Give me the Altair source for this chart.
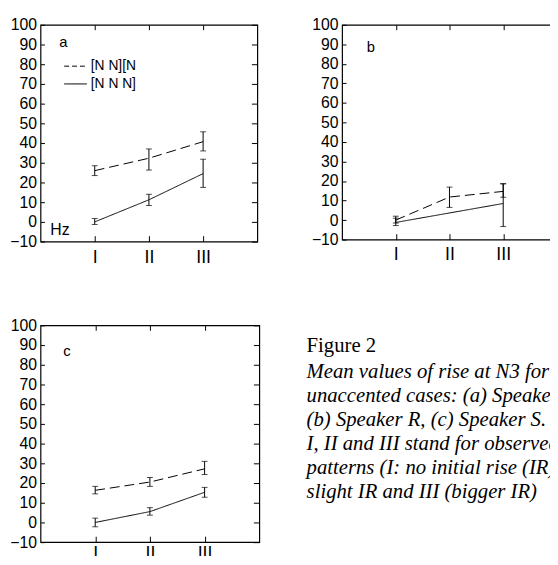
import altair as alt
import pandas as pd

# ---------------- data ----------------
patterns = ["I", "II", "III"]
series = ["[N N][N", "[N N N]"]
y_ticks = list(range(-10, 101, 10))

# panel a
a_dash_mean = [26.0, 32.3, 40.7]
a_dash_lo = [23.5, 26.3, 36.0]
a_dash_hi = [28.5, 37.0, 45.7]
a_solid_mean = [0.0, 11.2, 24.5]
a_solid_lo = [-1.3, 8.3, 17.5]
a_solid_hi = [1.7, 14.0, 31.8]

# panel b
b_dash_mean = [0.0, 11.8, 14.7]
b_dash_lo = [-1.5, 6.5, 11.7]
b_dash_hi = [2.0, 16.9, 18.6]
b_solid_mean = [-1.2, None, 8.5]
b_solid_lo = [-2.8, None, -3.3]
b_solid_hi = [1.0, None, 18.6]

# panel c
c_dash_mean = [16.3, 20.5, 27.2]
c_dash_lo = [14.5, 18.3, 24.3]
c_dash_hi = [18.3, 22.8, 31.0]
c_solid_mean = [0.0, 5.5, 15.3]
c_solid_lo = [-2.2, 3.7, 12.8]
c_solid_hi = [2.2, 7.5, 17.8]

legend_y = [79, 70]

caption_title = "Figure 2"
caption_lines = [
    "Mean values of rise at N3 for",
    "unaccented cases: (a) Speaker",
    "(b) Speaker R, (c) Speaker S.",
    "I, II and III stand for observed",
    "patterns (I: no initial rise (IR),",
    "slight IR and III (bigger IR)",
]

# ---------------- helpers ----------------
FONT = "Liberation Sans"
SERIF = "Liberation Serif"


def frame(dm, dl, dh, sm, sl, sh):
    rows = []
    for s, (m, l, h) in zip(series, [(dm, dl, dh), (sm, sl, sh)]):
        for p, mv, lv, hv in zip(patterns, m, l, h):
            if mv is None:
                continue
            rows.append(dict(pattern=p, series=s, mean=mv, lo=lv, hi=hv))
    return pd.DataFrame(rows)


yscale = alt.Scale(domain=[-10, 100], nice=False, zero=False)
xscale = alt.Scale(type="point", padding=1, domain=patterns)

left_axis = alt.Axis(orient="left", values=y_ticks, offset=-4, tickSize=4, domain=False,
                     grid=False, labelPadding=4, labelFontSize=16, labelFont=FONT,
                     labelColor="black", tickColor="black", title=None)
right_axis = alt.Axis(orient="right", values=y_ticks, offset=-6, tickSize=6, labels=False,
                      domain=False, grid=False, tickColor="black", title=None)
top_axis = alt.Axis(orient="top", offset=-5, tickSize=5, labels=False, domain=False,
                    grid=False, tickColor="black", title=None)


def bottom_axis(pad):
    return alt.Axis(orient="bottom", offset=-6, tickSize=6, labelPadding=pad,
                    labelFontSize=18, labelFont=FONT, labelAngle=0, domain=False,
                    grid=False, tickColor="black", labelColor="black", title=None)


def xenc(axis):
    if axis is None:
        return alt.X("pattern:N", scale=xscale, sort=patterns, axis=None)
    return alt.X("pattern:N", scale=xscale, sort=patterns, axis=axis)


def panel(df, w, h, letter, letter_xy, label_pad, extra=()):
    base = alt.Chart(df)
    lines = base.mark_line(color="black", strokeWidth=1).encode(
        x=xenc(bottom_axis(label_pad)),
        y=alt.Y("mean:Q", scale=yscale, axis=left_axis),
        strokeDash=alt.StrokeDash("series:N",
                                  scale=alt.Scale(domain=series, range=[[10, 5], [1, 0]]),
                                  legend=None),
    )
    bars = base.mark_rule(color="black", strokeWidth=1).encode(
        x=xenc(top_axis),
        y=alt.Y("lo:Q", scale=yscale, axis=right_axis),
        y2="hi:Q",
    )
    caps = [
        base.mark_tick(orient="horizontal", size=6, thickness=1, color="black").encode(
            x=xenc(None), y=alt.Y(f + ":Q", scale=yscale, axis=None))
        for f in ("lo", "hi")
    ]
    lab = alt.Chart(pd.DataFrame({"t": [letter]})).mark_text(
        align="left", baseline="middle", font=FONT, fontSize=15, color="black"
    ).encode(x=alt.value(letter_xy[0]), y=alt.value(letter_xy[1]), text="t:N")
    return alt.layer(lines, bars, *caps, lab, *extra).resolve_axis(
        x="independent", y="independent").properties(width=w, height=h)


# legend + Hz for panel a
leg_df = pd.DataFrame({"series": series, "ly": legend_y})
leg_dashes = [[5, 3], [1, 0]]
legend_layers = []
for i in range(len(series)):
    legend_layers.append(
        alt.Chart(leg_df.iloc[[i]]).mark_rule(color="black", strokeWidth=1,
                                               strokeDash=leg_dashes[i]).encode(
            x=alt.value(24), x2=alt.value(47),
            y=alt.Y("ly:Q", scale=yscale, axis=None))
    )
legend_layers.append(
    alt.Chart(leg_df).mark_text(align="left", baseline="middle", font=FONT, fontSize=14,
                                color="black").encode(
        x=alt.value(51), y=alt.Y("ly:Q", scale=yscale, axis=None), text="series:N")
)
legend_layers.append(
    alt.Chart(pd.DataFrame({"t": ["Hz"]})).mark_text(
        align="left", baseline="middle", font=FONT, fontSize=16, color="black"
    ).encode(x=alt.value(10), y=alt.value(208), text="t:N")
)

pa = panel(frame(a_dash_mean, a_dash_lo, a_dash_hi, a_solid_mean, a_solid_lo, a_solid_hi),
           220, 220, "a", (19, 18), 7, legend_layers)
pb = panel(frame(b_dash_mean, b_dash_lo, b_dash_hi, b_solid_mean, b_solid_lo, b_solid_hi),
           218, 218, "b", (25, 23), 6)
pc = panel(frame(c_dash_mean, c_dash_lo, c_dash_hi, c_solid_mean, c_solid_lo, c_solid_hi),
           222, 220, "c", (23, 26), 3)

cap_df = pd.DataFrame({"k": [0]})
cap_title = alt.Chart(cap_df).mark_text(
    text=caption_title, font=SERIF, fontSize=21, align="left", baseline="middle",
    color="black").encode(x=alt.value(0), y=alt.value(21))
cap_body = alt.Chart(cap_df).mark_text(
    text=caption_lines, font=SERIF, fontSize=21, fontStyle="italic", lineHeight=24.4,
    align="left", baseline="middle", color="black").encode(x=alt.value(0), y=alt.value(47))
caption = alt.layer(cap_title, cap_body).properties(
    width=1, height=220, view=alt.ViewBackground(strokeOpacity=0))

chart = alt.vconcat(
    alt.hconcat(pa, pb, spacing=52),
    alt.hconcat(pc, caption, spacing=46),
    spacing=50,
).properties(
    autosize=alt.AutoSizeParams(type="none"),
    padding={"left": 33, "top": 13, "right": 517, "bottom": 535},
).configure_view(stroke="black", strokeWidth=1.2)

chart.save("out.html", embed_options={"renderer": "svg", "actions": False})
